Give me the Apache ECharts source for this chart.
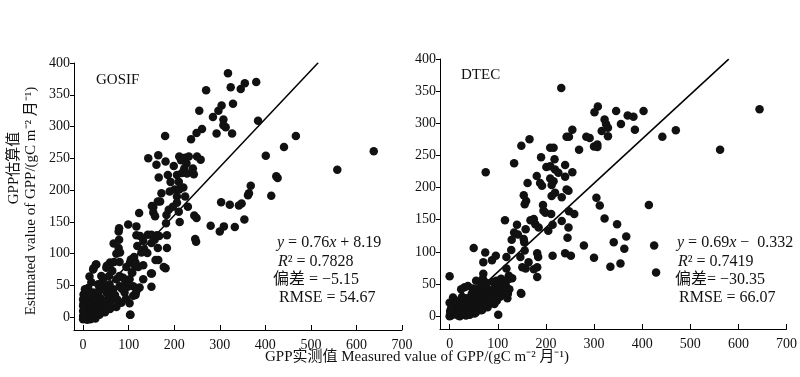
<!DOCTYPE html>
<html>
<head>
<meta charset="utf-8">
<script src="https://cdn.jsdelivr.net/npm/echarts@6/dist/echarts.min.js"></script>
<style>html,body{margin:0;padding:0;background:#fff;}#c{width:800px;height:377px;}</style>
</head>
<body>
<div id="c"></div>
<script>
// ---- data ----
const xTicks = [0, 100, 200, 300, 400, 500, 600, 700];
const yTicks = [0, 50, 100, 150, 200, 250, 300, 350, 400];

const gosifPoints = [
[318,384],[270,357],[324,362],[346,359],[355,368],[380,370],[329,336],[304,333],[297,325],[255,325],[285,315],[308,311],[384,309],[261,296],[249,290],[293,289],[313,299],[308,302],[327,289],[237,280],[180,285],[467,285],[441,268],[401,254],[638,261],[558,232],[424,222],[427,219],[368,207],[364,195],[362,192],[413,191],[303,181],[322,177],[342,176],[348,179],[354,154],[333,142],[309,143],[300,135],[280,144],[244,160],[249,156],[246,123],[248,119],
[143,250],[165,255],[161,240],[166,220],[181,245],[199,238],[186,224],[192,213],[206,224],[210,213],[211,253],[215,247],[219,250],[224,251],[227,242],[232,253],[222,234],[217,227],[228,226],[241,234],[243,225],[250,253],[258,248],[201,201],[211,201],[220,204],[224,190],[206,190],[190,198],[172,195],[169,182],[154,173],[151,175],[154,165],[158,159],[164,182],[183,161],[188,169],[197,174],[206,180],[210,166],[212,150],[230,174],[182,148],[123,164],[117,143],[99,146],[78,135],[79,140],[125,128],[117,129],[132,120],[142,130],[150,130],[162,129],[167,128],[184,129],[184,109],[164,109],[150,117],[157,122],[134,107],[141,101],[128,102],[119,112],[79,122],[78,109],[67,116],[81,102],[181,77],[165,90],[151,69],[150,48],[28,83],[23,77],[14,64],[103,4],[36,45],[103,86],[114,81],[107,71],[115,35],[119,44],[59,86],[52,81],
[11,46],[22,75],[29,83],[51,78],[58,79],[68,87],[73,100],[80,87],[95,79],[105,91],[112,95],[115,86],[121,79],[132,82],[149,69],[159,90],[177,79],[44,60],[57,65],[64,73],[45,49],[22,39],[33,39],[51,39],[66,44],[80,49],[88,62],[95,55],[102,60],[108,70],[80,65],[73,60],[58,52],[91,39],[110,34],[102,22],[84,23],[66,29],[51,21],[48,8],[59,13],[73,16],[94,29],[37,29],[26,18],[104,4],[116,39],[124,47],[132,60],[110,49],[18,55],[33,52],[40,65],
[0,2],[2,5],[4,0],[5,8],[7,3],[8,12],[10,5],[12,18],[3,15],[1,22],[6,25],[10,28],[14,10],[15,2],[18,8],[20,15],[22,4],[25,20],[28,12],[30,6],[32,25],[35,18],[38,30],[40,10],[0,10],[2,30],[5,35],[12,0],[17,22],[24,30],[27,-2],[36,4],[42,22],[45,15],[8,40],[14,35],[0,-3],[3,-2],[9,-4],[16,-3],[20,-1],[0,18],[0,28],[1,36],[4,44],[55,30],[60,22],[62,38],[70,35],[75,28],[85,45],[90,50],[98,48],[50,45]
];

const dtecPoints = [
[232,355],[644,322],[308,326],[301,317],[346,319],[370,312],[382,310],[403,319],[322,306],[325,299],[356,299],[385,290],[329,293],[316,288],[470,289],[255,290],[243,279],[248,279],[284,279],[291,277],[329,280],[300,264],[307,267],[307,263],[442,279],[562,259],[269,259],[209,262],[216,262],[218,244],[190,247],[166,275],[149,265],[134,238],[75,224],[162,207],[181,218],[201,232],[209,233],[219,228],[226,223],[240,235],[255,224],[240,217],[209,214],[216,210],[188,207],[192,203],[212,204],[243,197],[247,195],[233,185],[212,187],[219,192],[305,184],[312,172],[414,173],[322,152],[194,173],[195,164],[199,161],[175,151],[168,149],[178,143],[185,138],[156,174],[154,188],[159,179],[248,163],[259,159],[211,159],[205,133],[214,142],[233,148],[247,138],[140,142],[134,130],[142,127],[115,149],[158,135],[348,143],[367,124],[279,110],[341,115],[363,105],[425,110],[300,91],[334,77],[355,82],[429,68],[240,98],[252,94],[214,94],[245,122],[154,120],[155,115],[129,119],[156,102],[147,92],[164,84],[151,76],[158,74],[182,76],[184,92],[182,98],[182,61],[175,73],[149,35],[128,103],[118,92],[74,99],[50,106],[70,84],[88,87],[96,94],[101,50],[118,74],[123,63],[130,59],[70,66],[0,62],[0,21],[101,2],
[7,29],[24,42],[31,45],[38,47],[55,55],[69,58],[76,45],[90,53],[97,55],[107,58],[117,47],[121,35],[103,32],[83,40],[69,35],[55,32],[41,27],[28,22],[21,11],[10,6],[48,16],[62,22],[76,27],[90,29],[110,40],[124,42],[93,19],[79,14],[66,9],[52,4],[34,1],[21,0],[3,1],[148,36],[48,43],[124,58],
[0,0],[2,5],[5,2],[8,10],[10,3],[12,14],[15,6],[18,1],[20,18],[22,8],[25,3],[28,12],[30,20],[32,5],[35,14],[38,8],[40,22],[42,2],[45,16],[48,10],[50,25],[52,18],[55,6],[58,28],[60,14],[62,32],[65,20],[68,10],[70,38],[72,26],[75,18],[78,34],[80,42],[82,28],[85,22],[88,36],[90,40],[92,30],[95,45],[98,24],[100,35],[102,48],[105,30],[108,44],[110,52],[112,36],[115,40],[118,55],[120,28],[3,12],[6,20],[1,8],[14,24],[26,30],[36,28],[46,35],[56,42],[66,48],[76,52]
];

// fitted lines (from printed equations), endpoints in data units
const gosifFit = { slope: 0.76, intercept: 8.19, xStart: 0, xEnd: 516 };
const dtecFit = { slope: 0.69, intercept: -0.332, xStart: 0, xEnd: 580 };

const panelNames = ['GOSIF', 'DTEC'];

// ---- chart ----
const serif = "'Liberation Serif', 'Times New Roman', 'Noto Sans CJK SC', serif";
const fitLine = f => [[f.xStart, f.slope * f.xStart + f.intercept], [f.xEnd, f.slope * f.xEnd + f.intercept]];

function xAx(gi) {
  return {
    gridIndex: gi, type: 'value', min: -20, max: 700,
    axisLine: { onZero: false, lineStyle: { color: '#000', width: 1 } },
    axisTick: { inside: true, length: 5, lineStyle: { color: '#000' }, customValues: xTicks },
    axisLabel: { customValues: xTicks, color: '#111', fontFamily: serif, fontSize: 14, margin: 8 },
    splitLine: { show: false }
  };
}
function yAx(gi) {
  return {
    gridIndex: gi, type: 'value', min: -20, max: 400,
    axisLine: { onZero: false, lineStyle: { color: '#000', width: 1 } },
    axisTick: { inside: false, length: 4, lineStyle: { color: '#000' }, customValues: yTicks },
    axisLabel: { customValues: yTicks, color: '#111', fontFamily: serif, fontSize: 14, margin: 4 },
    splitLine: { show: false }
  };
}

function statText(x, y, text) {
  return {
    type: 'text', x: x, y: y,
    style: { text: text, fill: '#111', fontFamily: serif, fontSize: 16, textVerticalAlign: 'middle',
      rich: { i: { fontStyle: 'italic', fontFamily: serif, fontSize: 16 }, n: { fontFamily: serif, fontSize: 16 } } }
  };
}

const chart = echarts.init(document.getElementById('c'));
chart.setOption({
  animation: false,
  backgroundColor: '#fff',
  grid: [
    { left: 74, top: 63, width: 328, height: 267 },
    { left: 440, top: 59, width: 350, height: 270 }
  ],
  xAxis: [xAx(0), xAx(1)],
  yAxis: [yAx(0), yAx(1)],
  series: [
    { type: 'line', xAxisIndex: 0, yAxisIndex: 0, data: fitLine(gosifFit), symbol: 'none', lineStyle: { color: '#000', width: 1.5 }, z: 2 },
    { type: 'scatter', xAxisIndex: 0, yAxisIndex: 0, data: gosifPoints, symbolSize: 8.5, itemStyle: { color: '#111', opacity: 1 }, z: 3 },
    { type: 'line', xAxisIndex: 1, yAxisIndex: 1, data: fitLine(dtecFit), symbol: 'none', lineStyle: { color: '#000', width: 1.5 }, z: 2 },
    { type: 'scatter', xAxisIndex: 1, yAxisIndex: 1, data: dtecPoints, symbolSize: 8.5, itemStyle: { color: '#111', opacity: 1 }, z: 3 }
  ],
  graphic: [
    { type: 'text', x: 96, y: 80, style: { text: panelNames[0], fontFamily: serif, fontSize: 15, fill: '#111', textVerticalAlign: 'middle' } },
    { type: 'text', x: 461, y: 75, style: { text: panelNames[1], fontFamily: serif, fontSize: 15, fill: '#111', textVerticalAlign: 'middle' } },
    statText(277, 243, '{i|y}{n| = 0.76}{i|x}{n| + 8.19}'),
    statText(278, 262, '{i|R}{n|² = 0.7828}'),
    statText(273, 280, '{n|偏差 = −5.15}'),
    statText(279, 298, '{n|RMSE = 54.67}'),
    statText(677, 243, '{i|y}{n| = 0.69}{i|x}{n| −  0.332}'),
    statText(678, 262, '{i|R}{n|² = 0.7419}'),
    statText(675, 280, '{n|偏差= −30.35}'),
    statText(679, 298, '{n|RMSE = 66.07}'),
    { type: 'text', x: 14, y: 168, rotation: Math.PI / 2,
      style: { text: 'GPP估算值', fontFamily: serif, fontSize: 15, fill: '#111', textAlign: 'center', textVerticalAlign: 'middle' } },
    { type: 'text', x: 31, y: 201, rotation: Math.PI / 2,
      style: { text: 'Estimated value of GPP/(gC m⁻² 月⁻¹)', fontFamily: serif, fontSize: 15, fill: '#111', textAlign: 'center', textVerticalAlign: 'middle' } },
    { type: 'text', x: 417, y: 357,
      style: { text: 'GPP实测值 Measured value of GPP/(gC m⁻² 月⁻¹)', fontFamily: serif, fontSize: 15, fill: '#111', textAlign: 'center', textVerticalAlign: 'middle' } }
  ]
});
</script>
</body>
</html>
